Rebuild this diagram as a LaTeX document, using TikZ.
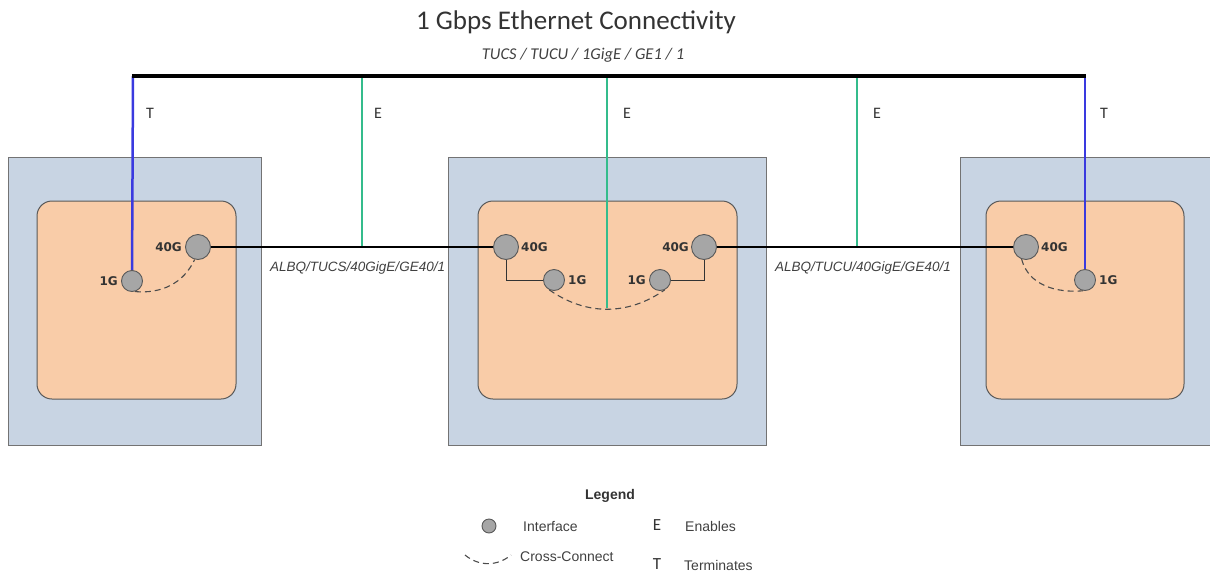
\documentclass[tikz,border=0pt]{standalone}
\usepackage{fontspec}
\setmainfont{Carlito}
\newfontfamily\arialf{Liberation Sans}
\newfontfamily\dvf{DejaVu Sans}
\pgfdeclarelayer{bg}
\pgfdeclarelayer{mid}
\pgfsetlayers{bg,mid,main}
\definecolor{chassis}{HTML}{C8D4E3}
\definecolor{card}{HTML}{F9CCA8}
\definecolor{ifc}{HTML}{A6A6A6}
\definecolor{tline}{HTML}{3A3ADF}
\definecolor{eline}{HTML}{34BC8C}
\begin{document}
\begin{tikzpicture}[x=1pt,y=-1pt,
  chassisbox/.style={draw=black!55,line width=1pt,fill=chassis},
  cardbox/.style={draw=black!65,line width=1pt,fill=card,rounded corners=15pt},
  big/.style={circle,draw=black!65,line width=0.9pt,fill=ifc,minimum size=25pt,inner sep=0pt},
  small/.style={circle,draw=black!65,line width=0.9pt,fill=ifc,minimum size=21pt,inner sep=0pt},
  plab/.style={font=\dvf\bfseries\fontsize{12}{14}\selectfont,text=black!80,inner sep=0pt},
  linklab/.style={font=\arialf\itshape\fontsize{13.5}{15}\selectfont,text=black!75,inner sep=0pt},
  rel/.style={font=\fontsize{16}{18}\selectfont,text=black!80,inner sep=0pt},
  leg/.style={font=\arialf\fontsize{14}{16}\selectfont,text=black!75,inner sep=0pt,anchor=west},
  tl/.style={draw=tline,line width=2.5pt},
  el/.style={draw=eline,line width=2.3pt},
  link/.style={draw=black,line width=2.8pt},
  xc/.style={draw=black!70,dashed,dash pattern=on 6pt off 4pt,line width=1.1pt},
  thin/.style={draw=black!80,line width=1pt}]
\useasboundingbox (0,0) rectangle (1210,573);

% chassis and cards
\begin{pgfonlayer}{bg}
\path[chassisbox] (8,157) rectangle (261,445);
\path[chassisbox] (448,157) rectangle (766,445);
\path[chassisbox] (960,157) rectangle (1216,445);
\path[cardbox] (37,201) rectangle (236,399);
\path[cardbox] (478,201) rectangle (737,399);
\path[cardbox] (986,201) rectangle (1184,399);
\end{pgfonlayer}

% interfaces
\node[big] (L40) at (198,247) {};
\node[small] (L1) at (132,281) {};
\node[big] (M40a) at (506,247) {};
\node[small] (M1a) at (554,280) {};
\node[small] (M1b) at (660,280) {};
\node[big] (M40b) at (704,247) {};
\node[big] (R40) at (1026,247) {};
\node[small] (R1) at (1085,280) {};

\node[plab,anchor=east] (lL40) at (182,247) {40G};
\node[plab,anchor=east] (lL1) at (118,281) {1G};
\node[plab,anchor=west] (lM40a) at (521,247) {40G};
\node[plab,anchor=west] (lM1a) at (568,280) {1G};
\node[plab,anchor=east] (lM1b) at (646,280) {1G};
\node[plab,anchor=east] (lM40b) at (689,247) {40G};
\node[plab,anchor=west] (lR40) at (1041,247) {40G};
\node[plab,anchor=west] (lR1) at (1099,280) {1G};

% top service line
\coordinate (TL) at (133,76);
\coordinate (TR) at (1085,76);
\coordinate (E1t) at (362,76);
\coordinate (E2t) at (607,76);
\coordinate (E3t) at (857,76);
\coordinate (E1b) at (362,247);
\coordinate (E2b) at (607,308);
\coordinate (E3b) at (857,247);

\begin{pgfonlayer}{mid}
\draw[tl] (TL) -- (L1.center);
\draw[tl] (TR) -- (R1.center);
\draw[el] (E1t) -- (E1b);
\draw[el] (E2t) -- (E2b);
\draw[el] (E3t) -- (E3b);
\draw[line width=3.5pt] ([xshift=-1.2pt]TL) -- ([xshift=1.2pt]TR);
\draw[link] (L40.center) -- (M40a.center);
\draw[link] (M40b.center) -- (R40.center);
\draw[thin] (M40a.center) |- (M1a.center);
\draw[thin] (M40b.center) |- (M1b.center);
\end{pgfonlayer}

% cross-connects
\draw[xc] (L1.-75) to[out=-5,in=-115] (L40.-105);
\draw[xc] (M1a.-115) to[out=-35,in=-145] (M1b.-65);
\draw[xc] (R40.-110) to[out=-75,in=185] (R1.-100);

% relation labels
\node[rel] (lT1) at (150,113) {T};
\node[rel] (lE1) at (378,113) {E};
\node[rel] (lE2) at (627,113) {E};
\node[rel] (lE3) at (877,113) {E};
\node[rel] (lT2) at (1104,113) {T};

% link labels
\node[linklab,anchor=west] (ll1) at (270,268) {ALBQ/TUCS/40GigE/GE40/1};
\node[linklab,anchor=west] (ll2) at (775,268) {ALBQ/TUCU/40GigE/GE40/1};

% title
\node[font=\fontsize{27}{31}\selectfont,text=black!80,inner sep=0pt] (title) at (576,22) {1 Gbps Ethernet Connectivity};
\node[font=\itshape\fontsize{16.5}{18}\selectfont,text=black!75,inner sep=0pt] (sub) at (583,55) {TUCS / TUCU / 1GigE / GE1 / 1};

% legend
\node[font=\arialf\bfseries\fontsize{14}{16}\selectfont,text=black!80,inner sep=0pt] (legt) at (610,496) {Legend};
\node[circle,draw=black!65,line width=0.9pt,fill=ifc,minimum size=14pt,inner sep=0pt] (legc) at (489,526) {};
\node[leg] (legi) at (523,526) {Interface};
\coordinate (lx1) at (465,555);
\coordinate (lx2) at (511,555);
\draw[xc] (lx1) to[out=-40,in=-140] (lx2);
\node[leg] (legx) at (520,557) {Cross-Connect};
\node[rel,font=\fontsize{17}{19}\selectfont] (legE) at (657,525) {E};
\node[leg] (lege) at (685,526) {Enables};
\node[rel,font=\fontsize{17}{19}\selectfont] (legT) at (657,564) {T};
\node[leg] (legtm) at (684,565) {Terminates};
\end{tikzpicture}
\end{document}
